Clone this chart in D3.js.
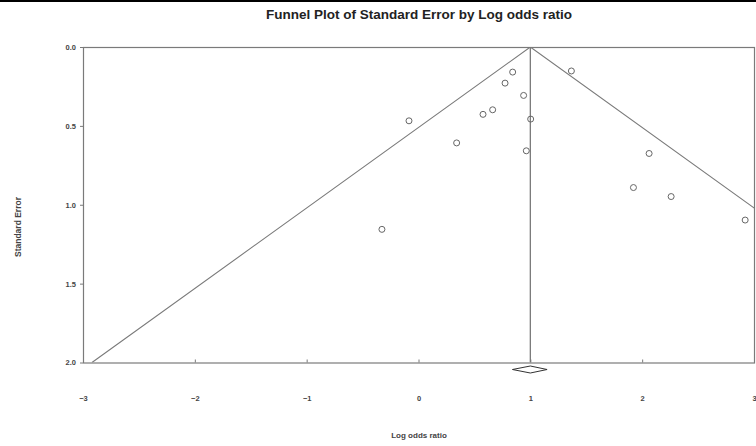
<!DOCTYPE html>
<html><head><meta charset="utf-8">
<script src="https://cdn.jsdelivr.net/npm/d3@7"></script>
<style>body{margin:0;background:#fff}svg{display:block}text{font-family:"Liberation Sans",Arial,sans-serif}</style>
</head><body><svg id="c" width="756" height="446"></svg>
<script>
const logOdds = [-0.085, 0.341, 0.577, 0.663, 0.774, 0.842, 0.940, 1.003, 0.964, 1.367, 2.062, 1.922, 2.259, 2.921, -0.327];
const stdErr  = [0.468, 0.608, 0.427, 0.398, 0.229, 0.159, 0.307, 0.457, 0.658, 0.152, 0.675, 0.891, 0.948, 1.097, 1.156];
const xTicks = [-3, -2, -1, 0, 1, 2, 3];
const yTicks = [0.0, 0.5, 1.0, 1.5, 2.0];
const pooled = {est: 1.0, lower: 0.84, upper: 1.15};
const seMax = 2.0;

const svg = d3.select("#c");
const L = 83, R = 755, T = 47, B = 362.5;
const x = d3.scaleLinear().domain([-3, 3]).range([L, R - 1]);
const y = d3.scaleLinear().domain([0, 2]).range([T, B]);
const grey = "#7a7a7a", txt = "#444";
const ff = "'Liberation Sans',Arial,sans-serif";

svg.append("rect").attr("x",0).attr("y",0).attr("width",756).attr("height",2).attr("fill","#000");

svg.append("text").attr("x", 419).attr("y", 19).attr("text-anchor","middle")
  .attr("font-size", 13.5).attr("font-weight","bold").attr("fill","#222")
  .text("Funnel Plot of Standard Error by Log odds ratio");

svg.append("clipPath").attr("id","pc").append("rect")
  .attr("x", L).attr("y", T).attr("width", R - L).attr("height", B - T);

// frame
svg.append("rect").attr("x", L + 0.5).attr("y", T + 0.5).attr("width", R - L - 1).attr("height", B - T)
  .attr("fill","none").attr("stroke", grey).attr("stroke-width", 1.2);

// axes
const yAxis = d3.axisLeft(y).tickValues(yTicks).tickFormat(d3.format(".1f")).tickSize(3).tickPadding(4);
const gy = svg.append("g").attr("transform", `translate(${L},0)`).call(yAxis);
gy.select(".domain").remove();
gy.selectAll("line").attr("stroke", grey);
gy.selectAll("text").attr("font-size", 7.5).attr("font-weight","bold").attr("fill", txt).attr("font-family", ff);

const xAxis = d3.axisBottom(x).tickValues(xTicks).tickFormat(d3.format("d")).tickSize(-3).tickPadding(33);
const gx = svg.append("g").attr("transform", `translate(0,${B})`).call(xAxis);
gx.select(".domain").remove();
gx.selectAll("line").attr("stroke", grey);
gx.selectAll("text").attr("font-size", 7.5).attr("font-weight","bold").attr("fill", txt).attr("font-family", ff);

// funnel lines
const g = svg.append("g").attr("clip-path","url(#pc)");
const fl = d3.line().x(d => x(d[0])).y(d => y(d[1]));
g.append("path").attr("d", fl([[pooled.est - 1.96*seMax, seMax],[pooled.est,0],[pooled.est + 1.96*seMax, seMax]]))
  .attr("fill","none").attr("stroke", grey).attr("stroke-width", 1.1);
g.append("path").attr("d", fl([[pooled.est,0],[pooled.est,seMax]]))
  .attr("fill","none").attr("stroke", grey).attr("stroke-width", 1.3);

// points
svg.append("g").selectAll("circle").data(logOdds.map((v,i)=>[v, stdErr[i]])).join("circle")
  .attr("cx", d => x(d[0])).attr("cy", d => y(d[1])).attr("r", 3)
  .attr("fill","none").attr("stroke","#666").attr("stroke-width", 1);

// diamond
const dy = B + 7;
svg.append("path").attr("d", `M${x(pooled.lower)},${dy} L${x(pooled.est)},${dy-3.5} L${x(pooled.upper)},${dy} L${x(pooled.est)},${dy+3.5} Z`)
  .attr("fill","#fff").attr("stroke","#333").attr("stroke-width", 1);

svg.append("text").attr("x", 419).attr("y", 438).attr("text-anchor","middle")
  .attr("font-size", 8).attr("font-weight","bold").attr("fill", txt).text("Log odds ratio");
svg.append("text").attr("transform","translate(21,227) rotate(-90)").attr("text-anchor","middle")
  .attr("font-size", 8.5).attr("font-weight","bold").attr("fill", txt).text("Standard Error");
</script></body></html>
